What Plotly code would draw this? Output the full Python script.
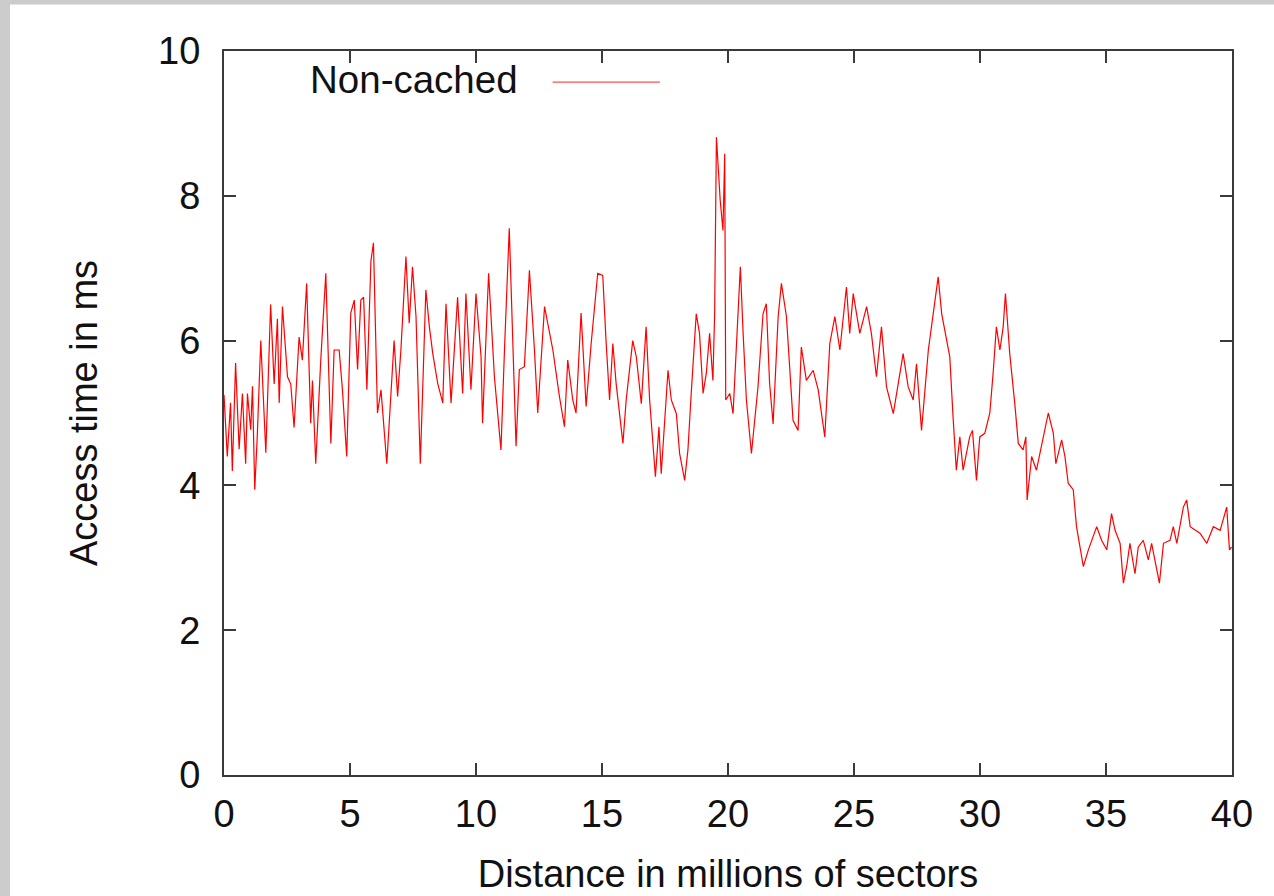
import plotly.graph_objects as go

# Distance in millions of sectors (x) and access time in ms (y)
distance = [
    0.00, 0.13, 0.26, 0.33, 0.46, 0.60, 0.73, 0.86, 0.93, 1.06, 1.13, 1.22, 1.32, 1.46, 1.66,
    1.85, 1.99, 2.12, 2.19, 2.32, 2.52, 2.65, 2.78, 2.98, 3.11, 3.28, 3.44, 3.51, 3.64, 3.84,
    4.04, 4.24, 4.37, 4.57, 4.70, 4.87, 5.03, 5.17, 5.30, 5.43, 5.54, 5.67, 5.83, 5.93, 6.09,
    6.23, 6.46, 6.62, 6.75, 6.89, 7.02, 7.22, 7.35, 7.48, 7.62, 7.79, 8.01, 8.15, 8.28, 8.48,
    8.68, 8.81, 9.01, 9.27, 9.47, 9.60, 9.80, 10.00, 10.20, 10.26, 10.50, 10.73, 10.99, 11.13,
    11.32, 11.59, 11.72, 11.92, 12.12, 12.32, 12.45, 12.72, 13.05, 13.31, 13.51, 13.64, 13.84,
    13.97, 14.17, 14.37, 14.57, 14.83, 15.03, 15.16, 15.30, 15.43, 15.56, 15.83, 15.96, 16.22,
    16.36, 16.56, 16.75, 16.89, 17.12, 17.26, 17.35, 17.62, 17.75, 17.95, 18.08, 18.28, 18.41,
    18.54, 18.74, 18.87, 19.01, 19.14, 19.27, 19.40, 19.47, 19.54, 19.60, 19.69, 19.80, 19.87,
    19.91, 20.07, 20.20, 20.33, 20.49, 20.60, 20.73, 20.93, 21.19, 21.39, 21.52, 21.65, 21.79,
    21.99, 22.12, 22.32, 22.58, 22.78, 22.91, 23.11, 23.38, 23.58, 23.84, 24.04, 24.24, 24.44,
    24.70, 24.83, 24.97, 25.23, 25.50, 25.69, 25.89, 26.09, 26.29, 26.56, 26.82, 26.95, 27.15,
    27.35, 27.48, 27.68, 27.95, 28.15, 28.34, 28.48, 28.68, 28.80, 28.93, 29.06, 29.20, 29.33,
    29.59, 29.70, 29.86, 29.99, 30.19, 30.39, 30.52, 30.65, 30.79, 30.92, 31.01, 31.18, 31.38,
    31.52, 31.71, 31.82, 31.87, 32.05, 32.24, 32.51, 32.71, 32.91, 33.01, 33.24, 33.37, 33.50,
    33.70, 33.83, 34.10, 34.30, 34.63, 34.83, 35.03, 35.22, 35.36, 35.56, 35.69, 35.82, 35.95,
    36.15, 36.28, 36.48, 36.68, 36.81, 37.01, 37.12, 37.28, 37.54, 37.67, 37.81, 38.07, 38.20,
    38.34, 38.73, 39.00, 39.26, 39.53, 39.79, 39.90, 39.98,
]
access_ms = [
    5.25, 4.40, 5.14, 4.20, 5.69, 4.50, 5.27, 4.30, 5.27, 4.77, 5.37, 3.94, 4.68, 6.00, 4.45,
    6.50, 5.40, 6.30, 5.14, 6.47, 5.50, 5.40, 4.80, 6.05, 5.73, 6.79, 4.86, 5.45, 4.30, 5.73,
    6.93, 4.58, 5.87, 5.87, 5.32, 4.40, 6.38, 6.56, 5.60, 6.56, 6.60, 5.32, 7.10, 7.35, 5.00,
    5.32, 4.30, 5.32, 6.00, 5.23, 5.87, 7.16, 6.24, 7.02, 6.33, 4.30, 6.70, 6.19, 5.83, 5.41,
    5.14, 6.51, 5.14, 6.60, 5.27, 6.65, 5.32, 6.65, 5.78, 4.86, 6.93, 5.50, 4.49, 5.87,
    7.55, 4.54, 5.60, 5.64, 6.97, 5.87, 5.00, 6.47, 5.87, 5.23, 4.81, 5.73, 5.18,
    5.00, 6.38, 5.09, 5.96, 6.93, 6.90, 6.00, 5.18, 5.96, 5.41, 4.58, 5.18, 6.00,
    5.78, 5.13, 6.19, 5.18, 4.12, 4.81, 4.16, 5.59, 5.18, 4.99, 4.44, 4.07, 4.49,
    5.27, 6.37, 6.10, 5.27, 5.55, 6.10, 5.45, 6.37, 8.81, 8.49, 7.94, 7.52, 8.58,
    5.18, 5.27, 4.99, 6.00, 7.02, 6.10, 5.18, 4.44, 5.36, 6.37, 6.51, 5.41, 4.85,
    6.33, 6.79, 6.33, 4.90, 4.76, 5.91, 5.45, 5.59, 5.32, 4.67, 5.96, 6.33, 5.87,
    6.74, 6.10, 6.65, 6.10, 6.47, 6.10, 5.50, 6.19, 5.36, 4.99, 5.55, 5.82, 5.36,
    5.18, 5.68, 4.76, 5.87, 6.37, 6.88, 6.37, 6.00, 5.78, 4.95, 4.21, 4.67, 4.21,
    4.67, 4.76, 4.07, 4.67, 4.72, 5.00, 5.55, 6.19, 5.87, 6.19, 6.65, 5.82, 5.13,
    4.58, 4.49, 4.67, 3.80, 4.40, 4.21, 4.67, 5.00, 4.72, 4.30, 4.63, 4.40, 4.03,
    3.94, 3.43, 2.88, 3.11, 3.43, 3.24, 3.11, 3.61, 3.38, 3.20, 2.65, 2.88, 3.20,
    2.78, 3.15, 3.24, 2.97, 3.20, 2.83, 2.65, 3.20, 3.24, 3.43, 3.20, 3.70, 3.80,
    3.43, 3.34, 3.20, 3.43, 3.38, 3.70, 3.11, 3.15,
]
x_ticks = [0, 5, 10, 15, 20, 25, 30, 35, 40]
y_ticks = [0, 2, 4, 6, 8, 10]
series_name = "Non-cached"

FONT = "Liberation Sans, Arial, Helvetica, sans-serif"
AXC = "#3a3a3a"

fig = go.Figure()
fig.add_trace(go.Scatter(x=distance, y=access_ms, mode="lines", name=series_name,
                         line=dict(color="#ff0000", width=1.2), showlegend=False))

axis_common = dict(showline=True, linecolor=AXC, linewidth=2, mirror="allticks",
                   ticks="inside", ticklen=12, tickwidth=2, tickcolor=AXC,
                   showgrid=False, zeroline=False,
                   tickfont=dict(family=FONT, size=38, color="#111111"))

fig.update_xaxes(range=[0, 40], tickvals=x_ticks, ticktext=[str(v) for v in x_ticks],
                 ticklabelstandoff=4,
                 title=dict(text="Distance in millions of sectors", standoff=27,
                            font=dict(family=FONT, size=38, color="#111111")),
                 **axis_common)
fig.update_yaxes(range=[0, 10], tickvals=y_ticks, ticktext=[str(v) for v in y_ticks],
                 ticklabelstandoff=14,
                 title=dict(text="Access time in ms", standoff=49,
                            font=dict(family=FONT, size=38, color="#111111")),
                 **axis_common)

# key: text followed by line sample (gnuplot style)
fig.add_annotation(xref="paper", yref="paper", x=0.0833, y=0.96, xanchor="left",
                   yanchor="middle", text=series_name, showarrow=False,
                   font=dict(family=FONT, size=38.5, color="#111111"))
fig.add_shape(type="line", xref="paper", yref="paper", x0=0.326, x1=0.4325,
              y0=0.957, y1=0.957, line=dict(color="#ff5050", width=1.2))

# grey window frame (top and left strips)
fig.add_shape(type="rect", xref="paper", yref="paper", x0=-0.23, x1=1.05,
              y0=1.0642, y1=1.08, line=dict(width=0), fillcolor="#cccccc", layer="above")
fig.add_shape(type="rect", xref="paper", yref="paper", x0=-0.23, x1=-0.2123,
              y0=-0.2, y1=1.08, line=dict(width=0), fillcolor="#cccccc", layer="above")

fig.update_layout(width=1274, height=896,
                  margin=dict(l=224, r=42, t=51, b=121, autoexpand=False),
                  paper_bgcolor="white", plot_bgcolor="white",
                  font=dict(family=FONT, color="#111111"))

fig.write_html("out.html", config={"displayModeBar": False},
               post_script="document.body.style.margin='0';document.body.style.overflow='hidden';")
